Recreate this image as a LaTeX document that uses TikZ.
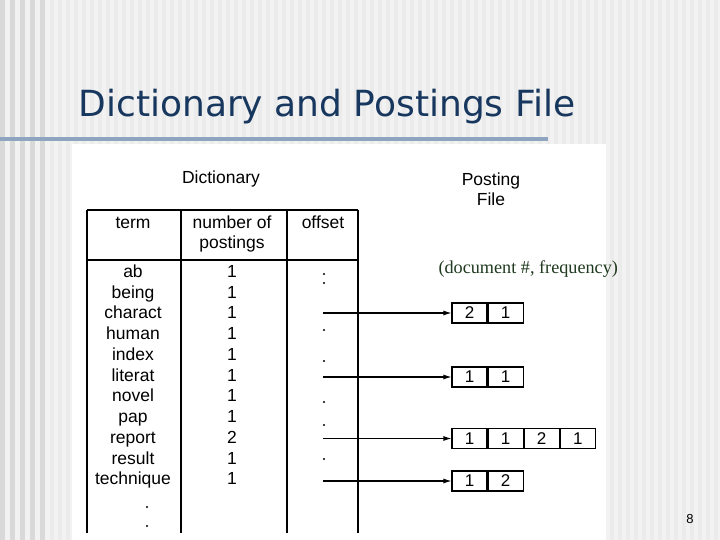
\documentclass[tikz,border=0pt]{standalone}
\usepackage{fontspec}
\setmainfont{Liberation Sans}
\newfontfamily\titlefont{DejaVu Sans}
\newfontfamily\notefont{Liberation Serif}
\usetikzlibrary{positioning,arrows.meta}
\definecolor{titleblue}{HTML}{17375E}
\definecolor{barblue}{HTML}{8FA5BF}
\definecolor{notegreen}{HTML}{1F3A1F}

\begin{document}
\begin{tikzpicture}[x=1pt,y=-1pt,line width=1.1pt,
  head/.style={inner sep=0pt,align=center,font=\fontsize{17.5}{20.5}\selectfont},
  entry/.style={inner sep=0pt,text height=12pt,text depth=3.5pt,
    font=\fontsize{17.5}{20.5}\selectfont},
  cell/.style={draw,minimum width=35pt,minimum height=20pt,inner sep=0pt,
    font=\fontsize{17}{17}\selectfont},
  ptr/.style={-{Latex[length=8pt,width=5pt]}}]
  % slide background
  \useasboundingbox (0,0) rectangle (720,540);
  \fill[black!5] (0,0) rectangle (720,540);
  \foreach \x in {50,58,...,720}
    \fill[black!8] (\x,0) rectangle ++(4,540);
  \foreach \x in {0,10,...,40}
    \fill[black!15] (\x,0) rectangle ++(5,540);
  \fill[barblue] (0,137) rectangle (548,141);
  \node[anchor=base west,text=titleblue,inner sep=0pt,
    font=\titlefont\fontsize{36}{36}\selectfont] (title) at (78,117)
    {Dictionary and Postings File};
  \fill[white] (72,144) rectangle (606,540);
  % headings
  \node[entry] (dict) at (221,179) {Dictionary};
  \node[head] (postfile) at (491,189) {Posting\\File};
  \node[anchor=base west,inner sep=0pt,text=notegreen,
    font=\notefont\fontsize{18.2}{18}\selectfont] (note) at (438,273)
    {(document \#, frequency)};
  % dictionary table
  \draw (87,210) -- (358,210);
  \draw (87,260) -- (358,260);
  \foreach \x in {87,181,287,358}
    \draw (\x,210) -- (\x,533);
  \node[entry] (hterm) at (133,224) {term};
  \node[head] (hnum) at (232,234) {number of\\postings};
  \node[entry] (hoff) at (323,224) {offset};
  \foreach \t/\n [count=\i] in {ab/1,being/1,charact/1,human/1,index/1,
      literat/1,novel/1,pap/1,report/2,result/1,technique/1} {
    \node[entry] (t\i) at (133,{252.3+20.75*\i}) {\t};
    \node[entry] (n\i) at (232,{252.3+20.75*\i}) {\n};
  }
  \fill (147,507) circle (1.1) (147,526) circle (1.1);
  \foreach \y in {274,283,330,361,402,425,459}
    \fill (324,\y) circle (1.1);
  % posting lists
  \node[cell] (p1a) at (469.5,313) {2};
  \node[cell,right=0pt of p1a] (p1b) {1};
  \node[cell] (p2a) at (469.5,377) {1};
  \node[cell,right=0pt of p2a] (p2b) {1};
  \node[cell] (p3a) at (469.5,438.5) {1};
  \node[cell,right=0pt of p3a] (p3b) {1};
  \node[cell,right=0pt of p3b] (p3c) {2};
  \node[cell,right=0pt of p3c] (p3d) {1};
  \node[cell] (p4a) at (469.5,481) {1};
  \node[cell,right=0pt of p4a] (p4b) {2};
  % pointers
  \coordinate (o3) at (323,313);
  \coordinate (o6) at (323,377);
  \coordinate (o9) at (323,438.5);
  \coordinate (o11) at (323,481);
  \draw[ptr] (o3) -- (p1a);
  \draw[ptr] (o6) -- (p2a);
  \draw[ptr] (o9) -- (p3a);
  \draw[ptr] (o11) -- (p4a);
  \node[inner sep=0pt,font=\fontsize{13}{13}\selectfont] (page) at (690,519) {8};
\end{tikzpicture}
\end{document}
